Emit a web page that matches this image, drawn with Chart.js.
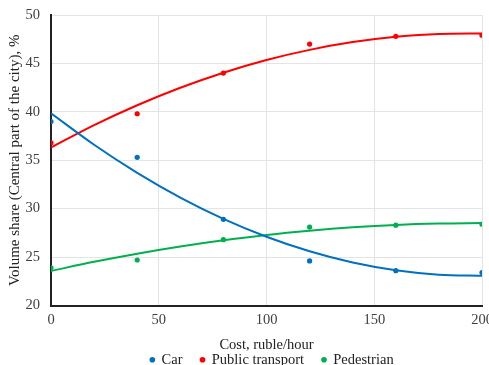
<!DOCTYPE html>
<html>
<head>
<meta charset="utf-8">
<script src="https://cdn.jsdelivr.net/npm/chart.js@4"></script>
<style>
  html, body { margin: 0; padding: 0; background: #fff; overflow: hidden; }
  #wrap { width: 489px; height: 365px; }
</style>
</head>
<body>
<div id="wrap"><canvas id="chart" width="489" height="365"></canvas></div>
<script>
// observed points
var costs = [0, 40, 80, 120, 160, 200];
var carShare = [39.0, 35.3, 28.9, 24.6, 23.6, 23.4];
var publicShare = [36.8, 39.8, 44.0, 47.0, 47.8, 47.9];
var pedestrianShare = [23.9, 24.7, 26.8, 28.1, 28.3, 28.4];

// trend lines
var trendCosts = [0, 20, 40, 60, 80, 100, 120, 140, 160, 180, 200];
var carTrend = [39.85, 36.6, 33.7, 31.15, 28.95, 27.1, 25.6, 24.44, 23.64, 23.18, 23.08];
var publicTrend = [36.32, 38.63, 40.68, 42.49, 44.04, 45.35, 46.4, 47.2, 47.75, 48.05, 48.1];
var pedestrianTrend = [23.57, 24.51, 25.35, 26.09, 26.73, 27.28, 27.72, 28.07, 28.32, 28.46, 28.51];

var seriesNames = ['Car', 'Public transport', 'Pedestrian'];
var seriesColors = ['#0070C0', '#FF0000', '#00B050'];

function pairs(xs, ys) {
  return xs.map(function (x, i) { return { x: x, y: ys[i] }; });
}

var pointSets = [carShare, publicShare, pedestrianShare];
var trendSets = [carTrend, publicTrend, pedestrianTrend];
var datasets = [];

pointSets.forEach(function (ys, i) {
  datasets.push({
    label: seriesNames[i],
    data: pairs(costs, ys),
    showLine: false,
    pointRadius: 2.6,
    pointHoverRadius: 2.6,
    pointBackgroundColor: seriesColors[i],
    pointBorderWidth: 0,
    borderColor: seriesColors[i],
    backgroundColor: seriesColors[i],
    order: 1
  });
});
trendSets.forEach(function (ys, i) {
  datasets.push({
    label: seriesNames[i] + ' trend',
    data: pairs(trendCosts, ys),
    showLine: true,
    pointRadius: 0,
    borderColor: seriesColors[i],
    borderWidth: 2,
    cubicInterpolationMode: 'monotone',
    fill: false,
    order: 2
  });
});

var serif = "'Liberation Serif', 'DejaVu Serif', serif";
var ink = '#404040';

// legend sits a little right of the canvas centre in the original
var legendShift = {
  id: 'legendShift',
  afterLayout: function (chart) {
    if (!chart.legend) return;
    chart.legend.left += 28;
    chart.legend.right += 28;
  }
};

new Chart(document.getElementById('chart'), {
  type: 'scatter',
  data: { datasets: datasets },
  plugins: [legendShift],
  options: {
    responsive: false,
    animation: false,
    layout: { padding: { top: 15, right: 7, left: 6, bottom: -12 } },
    plugins: {
      tooltip: { enabled: false },
      legend: {
        position: 'bottom',
        labels: {
          filter: function (item) { return item.datasetIndex < 3; },
          usePointStyle: true,
          pointStyle: 'circle',
          boxWidth: 4,
          boxHeight: 4,
          padding: 18,
          color: '#222',
          font: { family: serif, size: 14.5 }
        }
      }
    },
    scales: {
      x: {
        type: 'linear',
        min: 0,
        max: 200,
        ticks: { stepSize: 50, padding: 6, color: ink, font: { family: serif, size: 14.5 } },
        grid: { color: '#e4e4e4', drawTicks: false },
        border: { color: '#222', width: 2 },
        title: { display: true, text: 'Cost, ruble/hour', color: '#222', padding: { top: 0, bottom: -19 }, font: { family: serif, size: 14.5 } },
        afterFit: function (scale) {
          scale.paddingRight = 0;
          scale.height = 29;
        }
      },
      y: {
        min: 20,
        max: 50,
        ticks: { stepSize: 5, padding: 11, color: ink, font: { family: serif, size: 14.5 } },
        grid: { color: '#e4e4e4', drawTicks: false },
        border: { color: '#222', width: 2 },
        title: { display: true, text: 'Volume share (Central part of the city), %', color: '#222', padding: 0, font: { family: serif, size: 15 } },
        afterFit: function (scale) {
          scale.width = 45;
          scale.paddingTop = 0;
        }
      }
    }
  }
});
</script>
</body>
</html>
